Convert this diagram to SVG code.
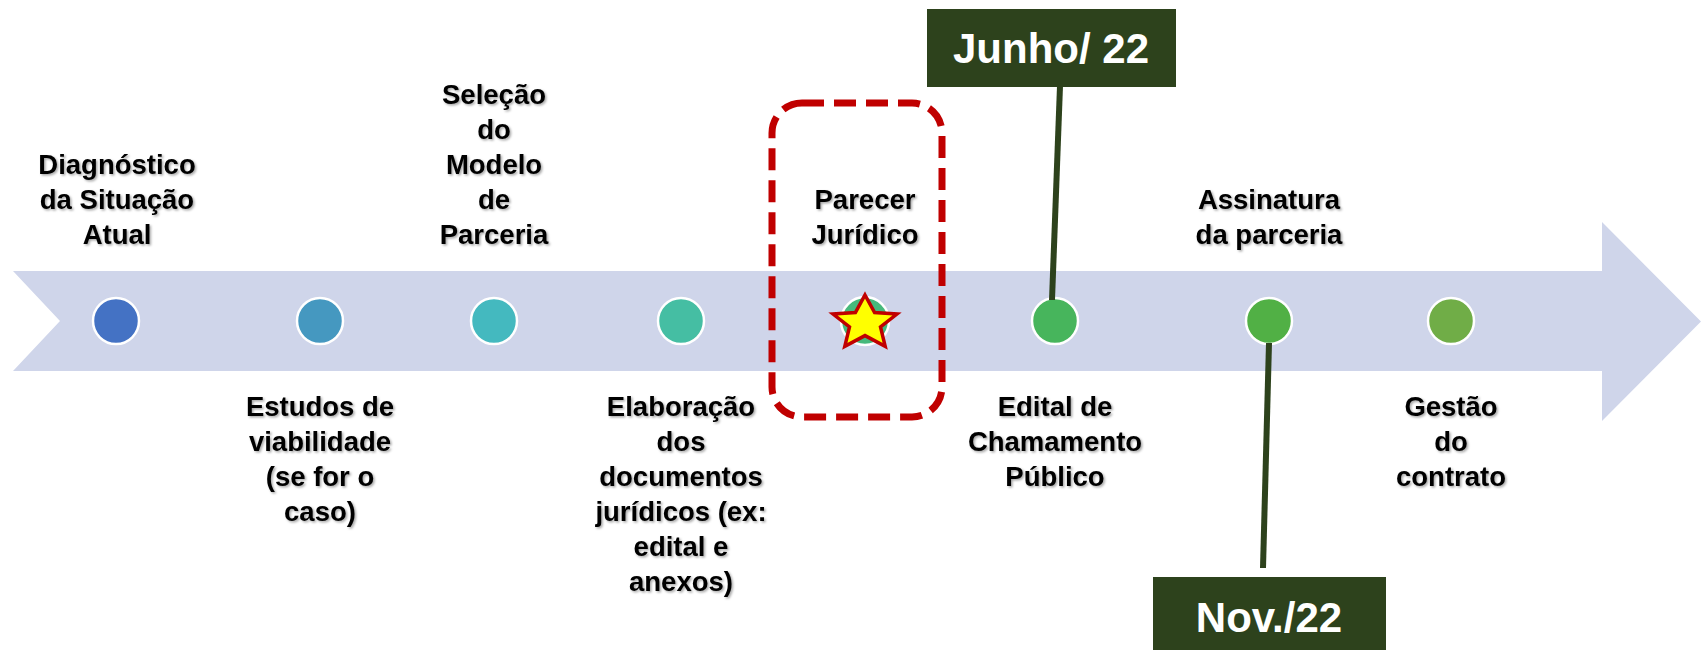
<svg xmlns="http://www.w3.org/2000/svg" width="1703" height="650" viewBox="0 0 1703 650">
<defs>
<filter id="sh" x="-10%" y="-20%" width="130%" height="160%">
<feDropShadow dx="1.5" dy="1.5" stdDeviation="1" flood-color="#000" flood-opacity="0.35"/>
</filter>
</defs>
<style>
.lbl{font-family:"Liberation Sans",Arial,sans-serif;font-weight:bold;font-size:27.5px;fill:#000;text-anchor:middle;filter:url(#sh)}
.dot{stroke:#fff;stroke-width:2.5}
.date{fill:#2D421C}
.dtxt{font-family:"Liberation Sans",Arial,sans-serif;font-weight:bold;font-size:42px;fill:#fff;text-anchor:middle}
.conn{stroke:#2D421C;stroke-width:6;fill:none}
</style>
<rect width="1703" height="650" fill="#fff"/>
<g id="timeline">
<polygon points="13,271 1602,271 1602,222 1701,321.5 1602,421 1602,371 13,371 60,321" fill="#CFD5EA"/>
</g>
<g id="n1"><circle class="dot" cx="116" cy="321" r="23" fill="#4472C4"/>
<text class="lbl"><tspan x="117" y="174">Diagnóstico</tspan><tspan x="117" y="209">da Situação</tspan><tspan x="117" y="244">Atual</tspan></text></g>
<g id="n2"><circle class="dot" cx="320" cy="321" r="23" fill="#4598C0"/>
<text class="lbl"><tspan x="320" y="416">Estudos de</tspan><tspan x="320" y="451">viabilidade</tspan><tspan x="320" y="486">(se for o</tspan><tspan x="320" y="521">caso)</tspan></text></g>
<g id="n3"><circle class="dot" cx="494" cy="321" r="23" fill="#44B9BF"/>
<text class="lbl"><tspan x="494" y="104">Seleção</tspan><tspan x="494" y="139">do</tspan><tspan x="494" y="174">Modelo</tspan><tspan x="494" y="209">de</tspan><tspan x="494" y="244">Parceria</tspan></text></g>
<g id="n4"><circle class="dot" cx="681" cy="321" r="23" fill="#45BEA3"/>
<text class="lbl"><tspan x="681" y="416">Elaboração</tspan><tspan x="681" y="451">dos</tspan><tspan x="681" y="486">documentos</tspan><tspan x="681" y="521">jurídicos (ex:</tspan><tspan x="681" y="556">edital e</tspan><tspan x="681" y="591">anexos)</tspan></text></g>
<g id="n5"><circle class="dot" cx="865" cy="321" r="24" fill="#46B97C"/>
<polygon points="865,295 874.6,312.6 897,314 880.5,327 885.2,346.3 865,335.6 844.8,346.3 849.5,327 833,314 855.4,312.6" fill="#FFFF00" stroke="#C00000" stroke-width="3.5" stroke-linejoin="miter"/>
<text class="lbl"><tspan x="865" y="209">Parecer</tspan><tspan x="865" y="244">Jurídico</tspan></text></g>
<g id="highlight"><rect x="772" y="103" width="170" height="314" rx="30" fill="none" stroke="#C00000" stroke-width="7" stroke-dasharray="22 10"/></g>
<g id="n6"><circle class="dot" cx="1055" cy="321" r="23" fill="#47B55C"/>
<text class="lbl"><tspan x="1055" y="416">Edital de</tspan><tspan x="1055" y="451">Chamamento</tspan><tspan x="1055" y="486">Público</tspan></text></g>
<g id="n7"><circle class="dot" cx="1269" cy="321" r="23" fill="#51B045"/>
<text class="lbl"><tspan x="1269" y="209">Assinatura</tspan><tspan x="1269" y="244">da parceria</tspan></text></g>
<g id="n8"><circle class="dot" cx="1451" cy="321" r="23" fill="#70AD47"/>
<text class="lbl"><tspan x="1451" y="416">Gestão</tspan><tspan x="1451" y="451">do</tspan><tspan x="1451" y="486">contrato</tspan></text></g>
<g id="connectors">
<line class="conn" x1="1060" y1="86" x2="1052" y2="300"/>
<line class="conn" x1="1269" y1="343" x2="1263" y2="568"/>
</g>
<g id="d1"><rect class="date" x="927" y="9" width="249" height="78"/>
<text class="dtxt" x="1051" y="63">Junho/ 22</text></g>
<g id="d2"><rect class="date" x="1153" y="577" width="233" height="73"/>
<text class="dtxt" x="1269" y="632">Nov./22</text></g>
</svg>
